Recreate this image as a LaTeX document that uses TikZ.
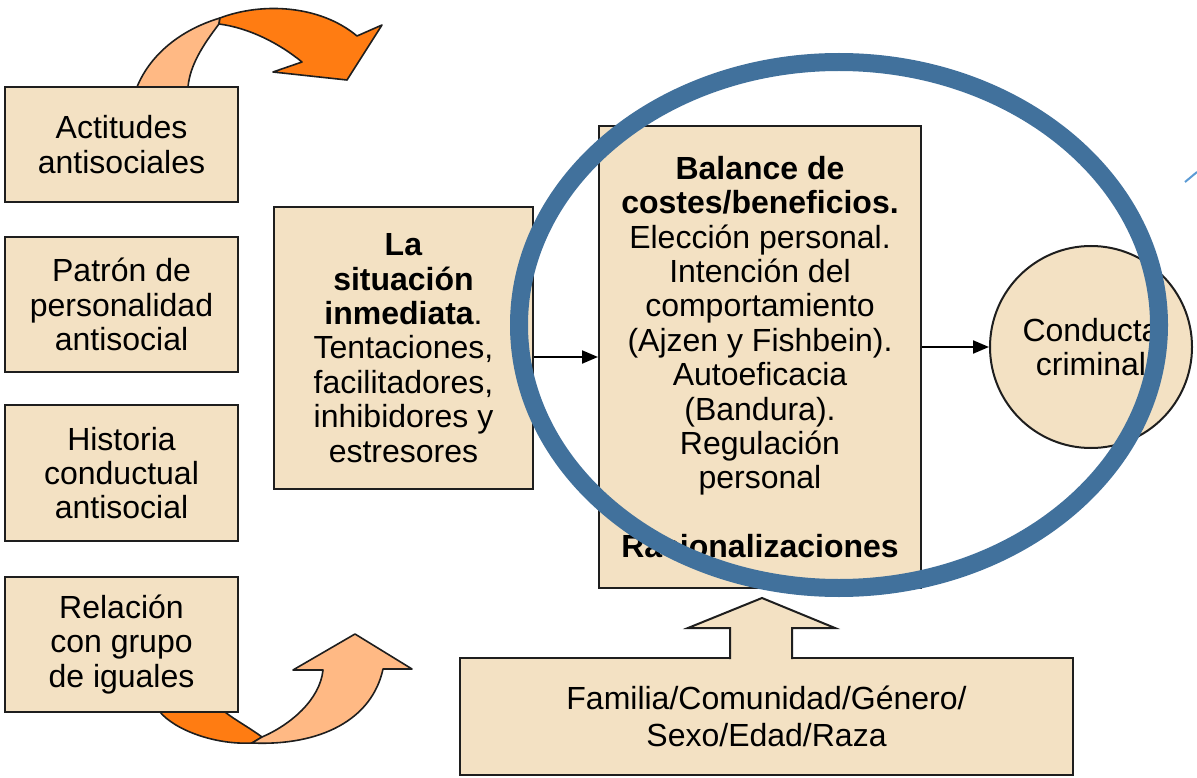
\documentclass[tikz,border=0pt]{standalone}
\usepackage{fontspec}
\setmainfont{Liberation Sans}
\usetikzlibrary{arrows.meta}
\definecolor{wheat}{RGB}{243,225,195}
\definecolor{darkor}{RGB}{255,124,18}
\definecolor{lightor}{RGB}{255,185,132}
\definecolor{ringblue}{RGB}{65,113,156}
\definecolor{thinblue}{RGB}{91,155,213}
\definecolor{edgecol}{RGB}{30,30,30}
\begin{document}
\begin{tikzpicture}[x=1pt,y=-1pt,
  box/.style={draw=edgecol,line width=2pt,fill=wheat,inner sep=0pt,align=center,
    font=\fontsize{32}{34.4}\selectfont},
  band/.style={draw=edgecol,line width=1.6pt,line join=round},
  arr/.style={draw=black,line width=2pt,-{Triangle[length=16pt,width=13pt]}}]
\useasboundingbox (0,0) rectangle (1197,778);
\fill[white] (0,0) rectangle (1197,778);

% curved arrows (behind the boxes)
\path[band,fill=lightor] (137,105) -- (137,87) .. controls (150,55) and (180,30) .. (220,18)
  -- (219,24) .. controls (203,45) and (190,65) .. (188,87) -- (188,105) -- cycle;
\path[band,fill=darkor] (220,18) .. controls (262,2) and (320,5) .. (357,36)
  -- (382,25) -- (347,80) -- (273,72) -- (302,62)
  .. controls (280,44) and (250,28) .. (219,24) -- cycle;
\path[band,fill=darkor] (160,700) -- (160,712) .. controls (175,730) and (215,745) .. (252,743)
  -- (262,737) .. controls (250,728) and (235,720) .. (225,712) -- (225,700) -- cycle;
\path[band,fill=lightor] (252,743) .. controls (320,746) and (372,720) .. (383,669)
  -- (412,669) -- (355,634) -- (293,670) -- (323,670)
  .. controls (320,700) and (290,725) .. (262,737) -- cycle;

% left boxes
\node[box,minimum width=233pt,minimum height=115pt] (act) at (121.5,144.5) {Actitudes\\antisociales};
\node[box,minimum width=233pt,minimum height=135pt] (pat) at (121.5,304.5) {Patrón de\\personalidad\\antisocial};
\node[box,minimum width=233pt,minimum height=136pt] (his) at (121.5,473) {Historia\\conductual\\antisocial};
\node[box,minimum width=233pt,minimum height=135pt] (rel) at (121.5,644.5) {Relación\\con grupo\\de iguales};

% situation box
\node[box,minimum width=259pt,minimum height=282pt] (sit) at (403.5,348) {\textbf{La}\\\textbf{situación}\\\textbf{inmediata}.\\Tentaciones,\\facilitadores,\\inhibidores y\\estresores};

% central box
\node[box,minimum width=322pt,minimum height=462pt] (bal) at (760,357) {\textbf{Balance de}\\\textbf{costes/beneficios.}\\Elección personal.\\Intención del\\comportamiento\\(Ajzen y Fishbein).\\Autoeficacia\\(Bandura).\\Regulación\\personal\\[34.4pt]\textbf{Racionalizaciones}};

% outcome circle
\node[box,circle,minimum size=202pt] (crim) at (1091,347) {Conducta\\criminal};

% bottom box
\node[box,minimum width=613pt,minimum height=117pt,font=\fontsize{32}{37}\selectfont] (fam) at (766.5,716.5) {Familia/Comunidad/Género/\\Sexo/Edad/Raza};

% block up arrow
\fill[wheat] (730,660) -- (730,628) -- (688,628) -- (762,598) -- (835,628) -- (792,628) -- (792,660) -- cycle;
\draw[edgecol,line width=2pt,line join=miter] (730,659) -- (730,628) -- (688,628) -- (762,598) -- (835,628) -- (792,628) -- (792,659);

% connectors
\draw[arr] (sit.east |- bal.west) -- (bal.west);
\draw[arr] (bal.east |- crim.west) -- (crim.west);

% blue ring
\draw[ringblue,line width=18pt] (839,325) ellipse [x radius=320, y radius=263];
\draw[thinblue,line width=2pt] (1185,182) -- (1197,172);
\end{tikzpicture}
\end{document}
